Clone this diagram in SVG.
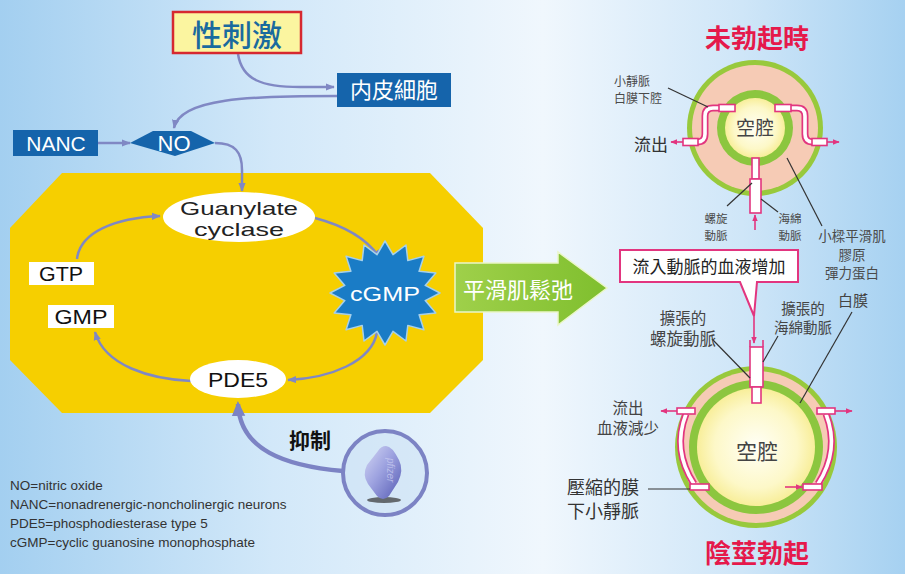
<svg xmlns="http://www.w3.org/2000/svg" width="905" height="574" viewBox="0 0 905 574">
  <defs>
    <linearGradient id="bg" x1="0" y1="0" x2="1" y2="0">
      <stop offset="0" stop-color="#a3cff0"/>
      <stop offset="0.3" stop-color="#d2e8f9"/>
      <stop offset="0.6" stop-color="#f0f7fd"/>
      <stop offset="0.82" stop-color="#cfe6f8"/>
      <stop offset="1" stop-color="#a6d1f1"/>
    </linearGradient>
    <radialGradient id="lumen" cx="0.5" cy="0.5" r="0.5">
      <stop offset="0" stop-color="#fffff6"/>
      <stop offset="0.7" stop-color="#fdf8c8"/>
      <stop offset="1" stop-color="#f8ee9a"/>
    </radialGradient>
    <linearGradient id="greenArrow" x1="0" y1="0" x2="1" y2="0">
      <stop offset="0" stop-color="#9fd04a"/>
      <stop offset="1" stop-color="#7fbf2e"/>
    </linearGradient>
    <linearGradient id="pill" x1="0" y1="0" x2="1" y2="1">
      <stop offset="0" stop-color="#d4d7f4"/>
      <stop offset="0.45" stop-color="#9ea3e0"/>
      <stop offset="1" stop-color="#555bb4"/>
    </linearGradient>
    <marker id="ah" viewBox="0 0 10 10" refX="9" refY="5" markerUnits="userSpaceOnUse" markerWidth="9" markerHeight="9" orient="auto">
      <path d="M0,1 L10,5 L0,9 z" fill="#8088c4"/>
    </marker>
    <marker id="ahBig" viewBox="0 0 10 10" refX="8" refY="5" markerUnits="userSpaceOnUse" markerWidth="15" markerHeight="15" orient="auto">
      <path d="M0,0.5 L10,5 L0,9.5 z" fill="#7c83c4"/>
    </marker>
    <marker id="pk" viewBox="0 0 10 10" refX="9" refY="5" markerUnits="userSpaceOnUse" markerWidth="7" markerHeight="7" orient="auto">
      <path d="M0,1 L10,5 L0,9 z" fill="#e2357f"/>
    </marker>
    <style>
      .cjk { font-family: "Noto Sans CJK TC", "Noto Sans CJK SC", sans-serif; }
      .lat { font-family: "Liberation Sans", Arial, sans-serif; }
      .conn { fill: none; stroke: #8088c4; stroke-width: 2.5; marker-end: url(#ah); }
      .blue { fill: #1564ab; }
      .wtxt { fill: #ffffff; }
      .lbl { fill: #4a4a4a; }
      .lead { fill: none; stroke: #333333; stroke-width: 1.2; }
      .tubeO { fill: none; stroke: #e2357f; stroke-width: 7; stroke-linejoin: round; }
      .tubeI { fill: none; stroke: #ffffff; stroke-width: 3.6; stroke-linejoin: round; }
      .cap { fill: #ffffff; stroke: #e2357f; stroke-width: 1.6; }
      .pink { fill: none; stroke: #e2357f; stroke-width: 1.6; marker-end: url(#pk); }
      .title { fill: #e5194b; font-weight: bold; font-size: 26px; }
    </style>
  </defs>

  <!-- backdrop -->
  <rect width="905" height="574" fill="url(#bg)"/>

  <!-- smooth-muscle cell -->
  <polygon id="cell" points="10,228 62,173 430,173 483,228 483,360 430,413 62,413 10,360" fill="#f6cf00"/>

  <!-- connectors -->
  <g id="connectors">
    <path class="conn" d="M238,54 C242,80 262,87 300,87 L334,87"/>
    <path class="conn" d="M337,96 C250,96 180,98 174,128"/>
    <path class="conn" d="M98,143 L130,143"/>
    <path class="conn" d="M215,143 C235,143 242,152 242,170 L242,191"/>
    <path class="conn" d="M77,259 C80,232 115,218 160,216"/>
    <path class="conn" d="M315,218 C345,226 368,240 380,258"/>
    <path class="conn" d="M377,332 C372,362 330,378 288,380"/>
    <path class="conn" d="M191,381 C150,379 105,366 95,332"/>
    <path d="M343,471 C285,466 240,450 238,404" fill="none" stroke="#7c83c4" stroke-width="4.5" marker-end="url(#ahBig)"/>
  </g>

  <!-- sexual stimulation -->
  <g id="stimulus">
    <rect x="173" y="12" width="128" height="41" fill="#fbf5a0" stroke="#d62830" stroke-width="2.5"/>
    <text x="237" y="46" class="cjk" font-size="30" font-weight="500" fill="#1a6a9e" text-anchor="middle">性刺激</text>
  </g>

  <g id="endothelium">
    <rect x="337" y="73" width="114" height="34" class="blue"/>
    <text x="394" y="98" class="cjk wtxt" font-size="22" text-anchor="middle">内皮細胞</text>
  </g>

  <g id="nanc">
    <rect x="13" y="130" width="85" height="26" class="blue"/>
    <text x="56" y="151" class="lat wtxt" font-size="21" text-anchor="middle">NANC</text>
  </g>

  <g id="no">
    <polygon points="130,143 153,131 191,131 215,143 175,156" class="blue"/>
    <text x="174" y="151" class="lat wtxt" font-size="22" text-anchor="middle">NO</text>
  </g>

  <g id="guanylate">
    <ellipse cx="239" cy="217" rx="76" ry="25" fill="#ffffff"/>
    <text x="239" y="215" class="lat" font-size="19" text-anchor="middle" textLength="118" lengthAdjust="spacingAndGlyphs" fill="#222">Guanylate</text>
    <text x="239" y="236" class="lat" font-size="19" text-anchor="middle" textLength="90" lengthAdjust="spacingAndGlyphs" fill="#222">cyclase</text>
  </g>

  <g id="gtp">
    <rect x="29" y="262" width="65" height="23" fill="#ffffff"/>
    <text x="61" y="281" class="lat" font-size="20" text-anchor="middle" textLength="44" lengthAdjust="spacingAndGlyphs" fill="#111">GTP</text>
  </g>

  <g id="gmp">
    <rect x="48" y="305" width="66" height="23" fill="#ffffff"/>
    <text x="81" y="324" class="lat" font-size="20" text-anchor="middle" textLength="53" lengthAdjust="spacingAndGlyphs" fill="#111">GMP</text>
  </g>

  <g id="cgmp">
    <polygon points="385,241 393,254.7 406,245 407.8,260.6 423.9,256.2 419.1,271.3 435.8,273.1 425.2,285.4 440,293 425.2,300.6 435.8,312.9 419.1,314.7 423.9,329.8 407.8,325.4 406,341 393,331.3 385,345 377,331.3 364,341 362.2,325.4 346.1,329.8 350.9,314.7 334.2,312.9 344.8,300.6 330,293 344.8,285.4 334.2,273.1 350.9,271.3 346.1,256.2 362.2,260.6 364,245 377,254.7" fill="#1a7cc6" stroke="#a6d0ea" stroke-width="1.5" stroke-linejoin="round"/>
    <text x="385" y="301" class="lat wtxt" font-size="21" text-anchor="middle" textLength="70" lengthAdjust="spacingAndGlyphs">cGMP</text>
  </g>

  <g id="pde5">
    <ellipse cx="238" cy="379" rx="48" ry="19" fill="#ffffff"/>
    <text x="238" y="387" class="lat" font-size="21" text-anchor="middle" textLength="60" lengthAdjust="spacingAndGlyphs" fill="#111">PDE5</text>
  </g>

  <!-- relaxation arrow -->
  <g id="relax">
    <polygon points="455,263 558,263 558,252 607,288 558,325 558,312 455,312" fill="url(#greenArrow)" stroke="#eaf6c8" stroke-width="1.5"/>
    <text x="518" y="298" class="cjk wtxt" font-size="22" text-anchor="middle">平滑肌鬆弛</text>
  </g>

  <!-- inhibitor -->
  <g id="inhibit">
    <text x="310" y="448" class="cjk" font-size="21" font-weight="bold" fill="#111" text-anchor="middle">抑制</text>
    <circle cx="385" cy="473" r="42" fill="#c9dff4" fill-opacity="0.5" stroke="#7c83c4" stroke-width="4"/>
    <ellipse cx="384" cy="500" rx="17" ry="3" fill="#333" fill-opacity="0.7"/>
    <path d="M386,446 Q392,446 399,460 Q404,470 398,482 L389,496 Q383,502 377,496 L368,484 Q362,475 367,465 L378,451 Q381,446 386,446 Z" fill="url(#pill)"/>
    <text x="0" y="0" transform="translate(387,458) rotate(90)" class="lat" font-size="10" font-style="italic" fill="#c5c8ef" fill-opacity="0.8">pfizer</text>
  </g>

  <!-- abbreviations -->
  <g id="legend" class="lat" font-size="13.5" fill="#333">
    <text x="10" y="490">NO=nitric oxide</text>
    <text x="10" y="509">NANC=nonadrenergic-noncholinergic neurons</text>
    <text x="10" y="528">PDE5=phosphodiesterase type 5</text>
    <text x="10" y="547">cGMP=cyclic guanosine monophosphate</text>
  </g>

  <!-- flaccid state -->
  <g id="flaccid">
    <text x="757" y="48" class="cjk title" text-anchor="middle">未勃起時</text>
    <circle cx="755" cy="128" r="68" fill="#98c93c"/>
    <circle cx="755" cy="128" r="63" fill="#f6cbb5"/>
    <circle cx="755" cy="128" r="38" fill="#8cc63f"/>
    <circle cx="755" cy="128" r="30" fill="url(#lumen)"/>
    <text x="755" y="135" class="cjk" font-size="19" fill="#444" text-anchor="middle">空腔</text>

    <path class="tubeO" d="M734,108 L713,108 Q705,108 705,116 L705,134 Q705,142 697,142 L684,142"/>
    <path class="tubeI" d="M734,108 L713,108 Q705,108 705,116 L705,134 Q705,142 697,142 L684,142"/>
    <rect x="719" y="104.5" width="16" height="7" class="cap"/>
    <rect x="683" y="138.5" width="15" height="7" class="cap"/>
    <path class="pink" d="M683,142 L671,142"/>

    <path class="tubeO" d="M776,108 L797,108 Q805,108 805,116 L805,134 Q805,142 813,142 L826,142"/>
    <path class="tubeI" d="M776,108 L797,108 Q805,108 805,116 L805,134 Q805,142 813,142 L826,142"/>
    <rect x="775" y="104.5" width="16" height="7" class="cap"/>
    <rect x="812" y="138.5" width="15" height="7" class="cap"/>
    <path class="pink" d="M827,142 L839,142"/>

    <rect x="752" y="158" width="7" height="21" class="cap"/>
    <rect x="750" y="179" width="11" height="34" class="cap"/>
    <path class="pink" d="M755,230 L755,215"/>

    <path class="lead" d="M668,88 L708,107"/>
    <path class="lead" d="M727,206 L752,183"/>
    <path class="lead" d="M761,199 L778,212"/>
    <path class="lead" d="M822,226 L787,158"/>

    <text x="614" y="86" class="cjk lbl" font-size="12">小靜脈</text>
    <text x="614" y="103" class="cjk lbl" font-size="12">白膜下腔</text>
    <text x="668" y="151" class="cjk" font-size="17" fill="#333" text-anchor="end">流出</text>
    <text x="716" y="223" class="cjk lbl" font-size="11.5" text-anchor="middle">螺旋</text>
    <text x="716" y="240" class="cjk lbl" font-size="11.5" text-anchor="middle">動脈</text>
    <text x="790" y="223" class="cjk lbl" font-size="11.5" text-anchor="middle">海綿</text>
    <text x="790" y="240" class="cjk lbl" font-size="11.5" text-anchor="middle">動脈</text>
    <text x="852" y="241" class="cjk lbl" font-size="13.5" text-anchor="middle">小樑平滑肌</text>
    <text x="852" y="259.5" class="cjk lbl" font-size="13.5" text-anchor="middle">膠原</text>
    <text x="852" y="278" class="cjk lbl" font-size="13.5" text-anchor="middle">彈力蛋白</text>
  </g>

  <!-- inflow callout -->
  <g id="inflow">
    <path d="M620,250 H798 V282 H757 L754,316 L740,282 H620 Z" fill="#ffffff" stroke="#e2357f" stroke-width="2"/>
    <text x="709" y="273" class="cjk" font-size="17" fill="#222" text-anchor="middle">流入動脈的血液增加</text>
    <path class="pink" d="M754,316 L754,343"/>
  </g>

  <!-- erect state -->
  <g id="erect">
    <circle cx="756" cy="447" r="81" fill="#98c93c"/>
    <circle cx="756" cy="447" r="76" fill="#f6cbb5"/>
    <circle cx="756" cy="447" r="67" fill="#8cc63f"/>
    <circle cx="756" cy="447" r="59" fill="url(#lumen)"/>
    <text x="757" y="459" class="cjk" font-size="21" fill="#444" text-anchor="middle">空腔</text>

    <path d="M750,347 L750,340 M763,347 L763,340" stroke="#e2357f" stroke-width="1.6"/>
    <rect x="750" y="347" width="13" height="40" class="cap"/>
    <rect x="752" y="387" width="9" height="16" class="cap"/>

    <path class="tubeO" d="M686,414 Q672,450 694,484"/>
    <path class="tubeI" d="M686,414 Q672,450 694,484"/>
    <rect x="677" y="408" width="18" height="6" class="cap"/>
    <rect x="690" y="484" width="19" height="6" class="cap"/>
    <path class="pink" d="M677,411 L661,411"/>

    <path class="tubeO" d="M826,414 Q840,450 818,484"/>
    <path class="tubeI" d="M826,414 Q840,450 818,484"/>
    <rect x="817" y="408" width="18" height="6" class="cap"/>
    <rect x="803" y="484" width="19" height="6" class="cap"/>
    <path class="pink" d="M835,411 L852,411"/>
    <path class="pink" d="M785,487 L802,487"/>

    <path class="lead" d="M712,339 L750,378"/>
    <path class="lead" d="M778,336 L763,362"/>
    <path class="lead" d="M852,312 L800,403"/>
    <path class="lead" d="M648,489 L690,489"/>

    <text x="683" y="324" class="cjk" font-size="15.5" fill="#444" text-anchor="middle">擴張的</text>
    <text x="683" y="345" class="cjk" font-size="16.5" fill="#444" text-anchor="middle">螺旋動脈</text>
    <text x="803" y="314" class="cjk" font-size="14.5" fill="#444" text-anchor="middle">擴張的</text>
    <text x="803" y="333" class="cjk" font-size="14.5" fill="#444" text-anchor="middle">海綿動脈</text>
    <text x="853" y="306" class="cjk" font-size="15" fill="#444" text-anchor="middle">白膜</text>
    <text x="628" y="414" class="cjk" font-size="15.5" fill="#444" text-anchor="middle">流出</text>
    <text x="628" y="434" class="cjk" font-size="15.5" fill="#444" text-anchor="middle">血液減少</text>
    <text x="567" y="494" class="cjk" font-size="18" fill="#333">壓縮的膜</text>
    <text x="567" y="518" class="cjk" font-size="18" fill="#333">下小靜脈</text>
    <text x="757" y="563" class="cjk title" text-anchor="middle">陰莖勃起</text>
  </g>
</svg>
